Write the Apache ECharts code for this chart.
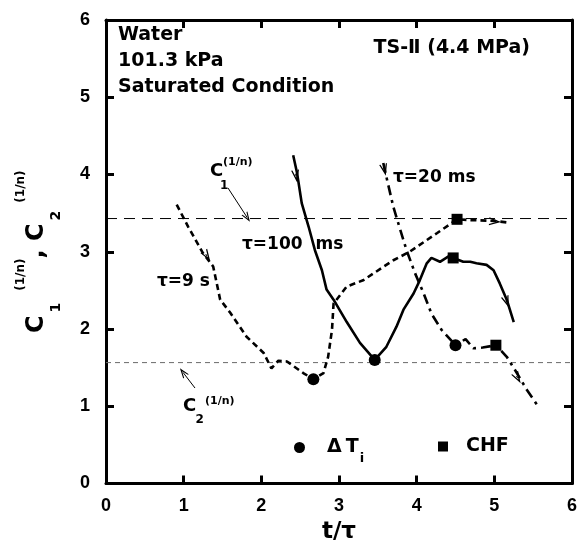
<!DOCTYPE html>
<html><head><meta charset="utf-8">
<script src="https://cdn.jsdelivr.net/npm/echarts@6/dist/echarts.min.js"></script>
<style>html,body{margin:0;padding:0;background:#fff}#c{width:582px;height:545px}</style>
</head><body><div id="c"></div>
<script>
// ---------------- data ----------------
const xTicks = [0, 1, 2, 3, 4, 5, 6];
const yTicks = [0, 1, 2, 3, 4, 5, 6];

// tau = 9 s (dashed)
const tau9s = [[0.91,3.61],[1.06,3.32],[1.25,2.98],[1.38,2.81],[1.47,2.38],[1.60,2.21],[1.81,1.90],
  [2.03,1.69],[2.13,1.49],[2.22,1.59],[2.33,1.58],[2.54,1.43],[2.67,1.35],[2.80,1.43],[2.86,1.64],
  [2.91,1.99],[2.93,2.33],[3.10,2.55],[3.31,2.63],[3.70,2.89],[3.91,3.00],[4.26,3.24],[4.52,3.42],
  [4.69,3.41],[4.99,3.40],[5.16,3.38]];
// tau = 100 ms (solid)
const tau100ms = [[2.41,4.25],[2.46,4.02],[2.52,3.63],[2.61,3.32],[2.69,3.02],[2.78,2.76],[2.84,2.51],
  [2.93,2.38],[3.10,2.09],[3.27,1.82],[3.46,1.60],[3.61,1.77],[3.74,2.03],[3.83,2.25],[3.96,2.46],
  [4.04,2.63],[4.13,2.85],[4.19,2.92],[4.30,2.87],[4.41,2.94],[4.47,2.92],[4.60,2.87],[4.69,2.87],
  [4.77,2.85],[4.90,2.83],[4.99,2.76],[5.07,2.59],[5.16,2.38],[5.25,2.09]];
// tau = 20 ms (dash-dot)
const tau20ms = [[3.57,4.15],[3.61,3.97],[3.70,3.58],[3.79,3.28],[3.87,3.02],[3.98,2.72],[4.09,2.46],
  [4.19,2.20],[4.32,1.99],[4.50,1.79],[4.63,1.87],[4.73,1.75],[4.85,1.76],[5.02,1.79],[5.16,1.64],
  [5.29,1.43],[5.42,1.21],[5.55,1.02]];

const deltaTi = [[2.67,1.35],[3.46,1.60],[4.50,1.79]];
const chf = [[4.52,3.42],[4.47,2.92],[5.02,1.79]];

const c1Level = 3.43;
const c2Level = 1.565;

// direction arrows on curves: [x, y, dx, dy]
const arrows9s = [[1.30,2.945,22,-35],[5.01,3.39,30,-2]];
const arrows100ms = [[2.446,3.98,4,-27],[5.16,2.35,9,-25]];
const arrows20ms = [[3.585,4.06,3,-13],[5.30,1.366,15,-26]];
// annotation pointer arrows: [[fromX, fromY], [toX, toY]]
const c1Pointer = [[1.571,3.825],[1.818,3.443]];
const c2Pointer = [[1.146,1.236],[0.991,1.439]];

// ---------------- chart ----------------
const FONT = '"DejaVu Sans"';
const ARROW = 'path://M5,0 L10,13 L8.4,13 L5,4.6 L1.6,13 L0,13 Z';

function arrowMarks(list) {
  return list.map(([x, y, dx, dy]) => {
    const L = Math.hypot(dx, dy), k = 0.03;
    return [{coord: [x - k * dx / L, y - k * dy / L]}, {coord: [x, y]}];
  });
}
function markArrows(list) {
  return {
    silent: true, animation: false,
    symbol: ['none', ARROW], symbolSize: [8, 12],
    label: {show: false},
    emphasis: {disabled: true},
    lineStyle: {type: 'solid', width: 1, color: '#000', opacity: 1},
    data: arrowMarks(list)
  };
}

const chart = echarts.init(document.getElementById('c'), null, {renderer: 'canvas'});

const axisCommon = {
  type: 'value',
  axisLine: {show: true, onZero: false, lineStyle: {color: '#000', width: 3}},
  axisTick: {show: true, inside: true, length: 8, lineStyle: {color: '#000', width: 3}},
  splitLine: {show: false}
};

const txt = (x, y, text, size, extra) => ({
  type: 'text', x: x, y: y, z: 100, silent: true,
  style: Object.assign({
    text: text, font: 'bold ' + size + 'px ' + FONT, fill: '#000',
    align: 'left', verticalAlign: 'middle', textAlign: 'left', textVerticalAlign: 'middle'
  }, extra || {})
});

const option = {
  animation: false,
  backgroundColor: '#fff',
  grid: {left: 106, right: 10, top: 20, bottom: 61.5, containLabel: false, outerBoundsMode: 'none'},
  xAxis: [
    Object.assign({}, axisCommon, {
      position: 'bottom', min: xTicks[0], max: xTicks[xTicks.length - 1], interval: 1,
      axisLabel: {show: true, margin: 14, color: '#000', fontFamily: 'Liberation Sans', fontWeight: 'bold', fontSize: 18,
        formatter: v => String(xTicks[xTicks.indexOf(v)])},
      name: 't/τ', nameLocation: 'middle', nameGap: 35,
      nameTextStyle: {color: '#000', fontFamily: FONT, fontWeight: 'bold', fontSize: 23}
    }),
    Object.assign({}, axisCommon, {
      position: 'top', min: xTicks[0], max: xTicks[xTicks.length - 1], interval: 1,
      axisLabel: {show: false}
    })
  ],
  yAxis: [
    Object.assign({}, axisCommon, {
      position: 'left', min: yTicks[0], max: yTicks[yTicks.length - 1], interval: 1,
      axisLabel: {show: true, margin: 16, color: '#000', fontFamily: 'Liberation Sans', fontWeight: 'bold', fontSize: 18,
        formatter: v => String(yTicks[yTicks.indexOf(v)])},
      name: '{c|C}{sb|1}{sp|(1/n)}{c|, C}{sb2|2}{sp|(1/n)}',
      nameLocation: 'middle', nameRotate: 90, nameGap: 43,
      nameTextStyle: {
        color: '#000', fontFamily: FONT, fontWeight: 'bold', fontSize: 24,
        rich: {
          c: {fontFamily: FONT, fontWeight: 'bold', fontSize: 24, lineHeight: 52, verticalAlign: 'middle', color: '#000'},
          sb: {fontFamily: FONT, fontWeight: 'bold', fontSize: 14, lineHeight: 12, verticalAlign: 'bottom', color: '#000', padding: [0, 12, 0, 3]},
          sb2: {fontFamily: FONT, fontWeight: 'bold', fontSize: 14, lineHeight: 12, verticalAlign: 'bottom', color: '#000', padding: [0, 8, 0, 3]},
          sp: {fontFamily: FONT, fontWeight: 'bold', fontSize: 12, lineHeight: 34, verticalAlign: 'top', color: '#000', padding: [4, 0, 0, 0]}
        }
      }
    }),
    Object.assign({}, axisCommon, {
      position: 'right', min: yTicks[0], max: yTicks[yTicks.length - 1], interval: 1,
      axisLabel: {show: false}
    })
  ],
  legend: [
    {
      data: [{name: 'ΔTi', icon: 'circle'}], left: 294, top: 438, padding: 0,
      itemWidth: 11, itemHeight: 11, selectedMode: false,
      itemStyle: {color: '#000', opacity: 1},
      formatter: () => '{d|Δ}{t|T}{s|i}',
      textStyle: {
        color: '#000', fontFamily: FONT, fontWeight: 'bold', fontSize: 19,
        rich: {
          d: {fontFamily: FONT, fontWeight: 'bold', fontSize: 19, lineHeight: 36, verticalAlign: 'middle', color: '#000', padding: [0, 0, 0, 17]},
          t: {fontFamily: FONT, fontWeight: 'bold', fontSize: 19, lineHeight: 36, verticalAlign: 'middle', color: '#000', padding: [0, 1, 0, 4]},
          s: {fontFamily: FONT, fontWeight: 'bold', fontSize: 13, lineHeight: 14, verticalAlign: 'bottom', color: '#000'}
        }
      }
    },
    {
      data: [{name: 'CHF', icon: 'rect'}], left: 438, top: 437, padding: 0,
      itemWidth: 10, itemHeight: 10, selectedMode: false,
      itemStyle: {color: '#000', opacity: 1},
      formatter: () => '{a|CHF}',
      textStyle: {
        color: '#000', fontFamily: FONT, fontWeight: 'bold', fontSize: 19,
        rich: {a: {fontFamily: FONT, fontWeight: 'bold', fontSize: 19, color: '#000', padding: [0, 0, 0, 13]}}
      }
    }
  ],
  series: [
    {
      name: 'C1', type: 'line', data: [[xTicks[0], c1Level], [xTicks[xTicks.length - 1], c1Level]],
      symbol: 'none', silent: true, z: 1,
      lineStyle: {color: '#000', width: 1, type: [11, 7]},
      markLine: {
        silent: true, animation: false, symbol: ['none', ARROW], symbolSize: [7, 10],
        label: {show: false}, emphasis: {disabled: true},
        lineStyle: {type: 'solid', width: 1, color: '#000', opacity: 1},
        data: [
          [{coord: c1Pointer[0]}, {coord: c1Pointer[1]}],
          [{coord: c2Pointer[0]}, {coord: c2Pointer[1]}]
        ]
      }
    },
    {
      name: 'C2', type: 'line', data: [[xTicks[0], c2Level], [xTicks[xTicks.length - 1], c2Level]],
      symbol: 'none', silent: true, z: 1,
      lineStyle: {color: '#6a6a6a', width: 1, type: [5, 4]}
    },
    {
      name: 'τ=9 s', type: 'line', data: tau9s, symbol: 'none', silent: true, z: 3,
      lineStyle: {color: '#000', width: 2.6, type: [6, 4]},
      markLine: markArrows(arrows9s)
    },
    {
      name: 'τ=100 ms', type: 'line', data: tau100ms, symbol: 'none', silent: true, z: 3,
      lineStyle: {color: '#000', width: 2.6, type: 'solid'},
      markLine: markArrows(arrows100ms)
    },
    {
      name: 'τ=20 ms', type: 'line', data: tau20ms, symbol: 'none', silent: true, z: 3,
      lineStyle: {color: '#000', width: 2.6, type: [10, 5, 3, 5]},
      markLine: markArrows(arrows20ms)
    },
    {
      name: 'ΔTi', type: 'scatter', data: deltaTi, symbol: 'circle', symbolSize: 12, z: 5,
      itemStyle: {color: '#000', opacity: 1}, silent: true
    },
    {
      name: 'CHF', type: 'scatter', data: chf, symbol: 'rect', symbolSize: 11, z: 5,
      itemStyle: {color: '#000', opacity: 1}, silent: true
    }
  ],
  graphic: [
    txt(118, 35, 'Water', 19),
    txt(118, 61, '101.3 kPa', 19),
    txt(118, 87, 'Saturated Condition', 19),
    txt(530, 48, 'TS-Ⅱ (4.4 MPa)', 19, {align: 'right', textAlign: 'right'}),
    {
      type: 'text', x: 242, y: 245, z: 100, silent: true,
      style: {
        text: '{a|τ=100 }{b|ms}', fill: '#000', font: 'bold 17px ' + FONT,
        align: 'left', verticalAlign: 'middle', textAlign: 'left', textVerticalAlign: 'middle',
        rich: {
          a: {font: 'bold 17px ' + FONT, fill: '#000'},
          b: {font: 'bold 17px ' + FONT, fill: '#000', padding: [0, 0, 0, 7]}
        }
      }
    },
    txt(157, 282, 'τ=9 s', 17),
    txt(393, 178, 'τ=20 ms', 17),
    txt(210, 171.5, 'C', 18),
    txt(220, 185.5, '1', 12),
    txt(223, 162.5, '(1/n)', 11),
    txt(183, 406.5, 'C', 18),
    txt(195.5, 420, '2', 12),
    txt(205, 401, '(1/n)', 11)
  ]
};
chart.setOption(option);
</script>
</body></html>
